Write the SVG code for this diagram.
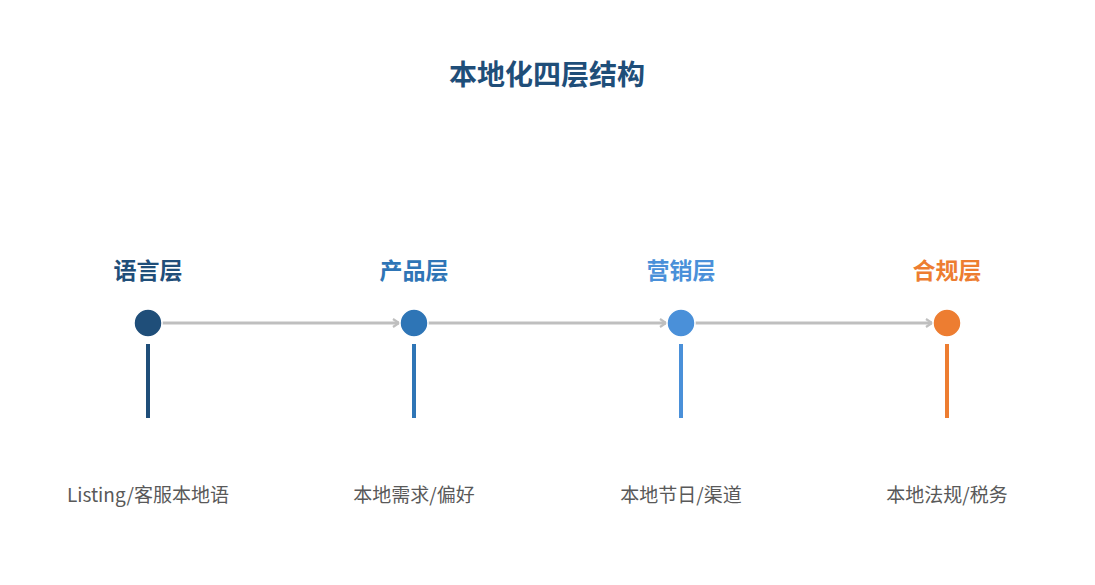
<svg xmlns="http://www.w3.org/2000/svg" width="1095" height="585" viewBox="0 0 1095 585">
<style>
.t{font-family:"Noto Sans CJK SC","Noto Sans",sans-serif;font-weight:bold;text-anchor:middle}
.lbl{font-family:"Noto Sans CJK SC","Noto Sans",sans-serif;font-weight:bold;font-size:23px;text-anchor:middle}
.desc{font-family:"Noto Sans CJK SC","Noto Sans",sans-serif;font-size:19px;fill:#595959;text-anchor:middle}
.conn{stroke:#bfbfbf;stroke-width:3;fill:none;marker-end:url(#arr)}
.dot{stroke:#ffffff;stroke-width:1.5}
.stem{stroke-width:4}
</style>
<defs>
<marker id="arr" markerWidth="10" markerHeight="10" refX="7" refY="5" orient="auto" markerUnits="userSpaceOnUse">
<path d="M1,1 L7,5 L1,9" fill="none" stroke="#bfbfbf" stroke-width="2.2"/>
</marker>
</defs>
<rect width="1095" height="585" fill="#ffffff"/>
<text class="t" x="547" y="85" font-size="28" fill="#1f4e79">本地化四层结构</text>
<g id="connectors">
<line class="conn" x1="162" y1="323" x2="399" y2="323"/>
<line class="conn" x1="428" y1="323" x2="666" y2="323"/>
<line class="conn" x1="695" y1="323" x2="932" y2="323"/>
</g>
<g id="node1">
<text class="lbl" x="148" y="279" fill="#1f4e79">语言层</text>
<circle class="dot" cx="148" cy="323" r="14" fill="#1f4e79"/>
<line class="stem" x1="148" y1="344" x2="148" y2="418" stroke="#1f4e79"/>
<text class="desc" x="148" y="502">Listing/客服本地语</text>
</g>
<g id="node2">
<text class="lbl" x="414" y="279" fill="#2e75b6">产品层</text>
<circle class="dot" cx="414" cy="323" r="14" fill="#2e75b6"/>
<line class="stem" x1="414" y1="344" x2="414" y2="418" stroke="#2e75b6"/>
<text class="desc" x="414" y="502">本地需求/偏好</text>
</g>
<g id="node3">
<text class="lbl" x="681" y="279" fill="#4a90d9">营销层</text>
<circle class="dot" cx="681" cy="323" r="14" fill="#4a90d9"/>
<line class="stem" x1="681" y1="344" x2="681" y2="418" stroke="#4a90d9"/>
<text class="desc" x="681" y="502">本地节日/渠道</text>
</g>
<g id="node4">
<text class="lbl" x="947" y="279" fill="#ed7d31">合规层</text>
<circle class="dot" cx="947" cy="323" r="14" fill="#ed7d31"/>
<line class="stem" x1="947" y1="344" x2="947" y2="418" stroke="#ed7d31"/>
<text class="desc" x="947" y="502">本地法规/税务</text>
</g>
</svg>
